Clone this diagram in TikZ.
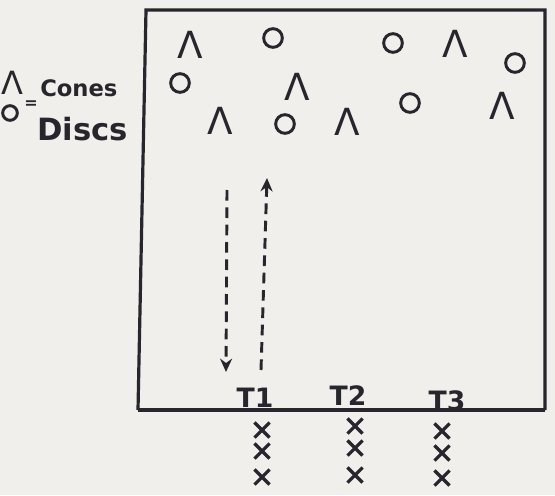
\documentclass[tikz,border=0pt]{standalone}
\usepackage{fontspec}
\setmainfont{DejaVu Sans}
\usetikzlibrary{shapes.misc,arrows.meta}
\definecolor{paper}{HTML}{F1EFEC}
\definecolor{ink}{HTML}{26262C}
\tikzset{
  cone/.style={text=ink,font=\fontsize{28}{28}\selectfont,inner sep=0pt},
  disc/.style={draw=ink,circle,line width=2.2pt,minimum size=14pt,inner sep=0pt},
  player/.style={draw=ink,cross out,line width=2.4pt,minimum size=9pt,inner sep=0pt},
  lbl/.style={text=ink,inner sep=0pt,font=\bfseries},
  run/.style={draw=ink,line width=2.2pt,dash pattern=on 8pt off 5pt,-{Stealth[length=10pt,width=9pt]}},
  frame/.style={draw=ink,line width=2.4pt}
}
\begin{document}
\begin{tikzpicture}[x=0.75pt,y=-0.75pt]
\fill[paper] (0,0) rectangle (555,495);
\useasboundingbox (0,0) rectangle (555,495);
% pitch
\coordinate (tl) at (146,10);
\coordinate (tr) at (545,10);
\coordinate (br) at (545,410);
\coordinate (bl) at (138,410);
\draw[frame] (bl) -- (tl) -- (tr) -- (br);
\draw[frame,line width=2.8pt] (bl) -- (br);
% legend
\node[cone,font=\fontsize{24}{24}\selectfont] (lc) at (12,83) {Λ};
\node[lbl,font=\bfseries\fontsize{17}{17}\selectfont,anchor=west] (lct) at (40,88) {Cones};
\node[disc,minimum size=11pt] (ld) at (10,113) {};
\node[lbl,font=\bfseries\fontsize{12}{12}\selectfont] (leq) at (31,105) {=};
\node[lbl,font=\bfseries\fontsize{23}{23}\selectfont,anchor=west] (ldt) at (37,129) {Discs};
% cones
\node[cone] (c1) at (190,45) {Λ};
\node[cone] (c2) at (455,44) {Λ};
\node[cone] (c3) at (297,87) {Λ};
\node[cone] (c4) at (220,121) {Λ};
\node[cone] (c5) at (347,122) {Λ};
\node[cone] (c6) at (502,106) {Λ};
% discs
\node[disc] (d1) at (273,38) {};
\node[disc] (d2) at (393,43) {};
\node[disc] (d3) at (180,83) {};
\node[disc] (d4) at (515,63) {};
\node[disc] (d5) at (410,103) {};
\node[disc] (d6) at (285,124) {};
% runs
\coordinate (a1s) at (227,190);
\coordinate (a1e) at (226,372);
\coordinate (a2s) at (261,370);
\coordinate (a2e) at (267,178);
\draw[run] (a1s) -- (a1e);
\draw[run] (a2s) -- (a2e);
% team labels
\node[lbl,font=\bfseries\fontsize{20}{20}\selectfont] (t1) at (255,398) {T1};
\node[lbl,font=\bfseries\fontsize{20}{20}\selectfont] (t2) at (348,396) {T2};
\node[lbl,font=\bfseries\fontsize{20}{20}\selectfont] (t3) at (447,401) {T3};
% players
\node[player] (p11) at (262,430) {};
\node[player] (p12) at (262,451) {};
\node[player] (p13) at (262,477) {};
\node[player] (p21) at (355,426) {};
\node[player] (p22) at (355,448) {};
\node[player] (p23) at (355,475) {};
\node[player] (p31) at (442,431) {};
\node[player] (p32) at (442,453) {};
\node[player] (p33) at (442,478) {};
\end{tikzpicture}
\end{document}
